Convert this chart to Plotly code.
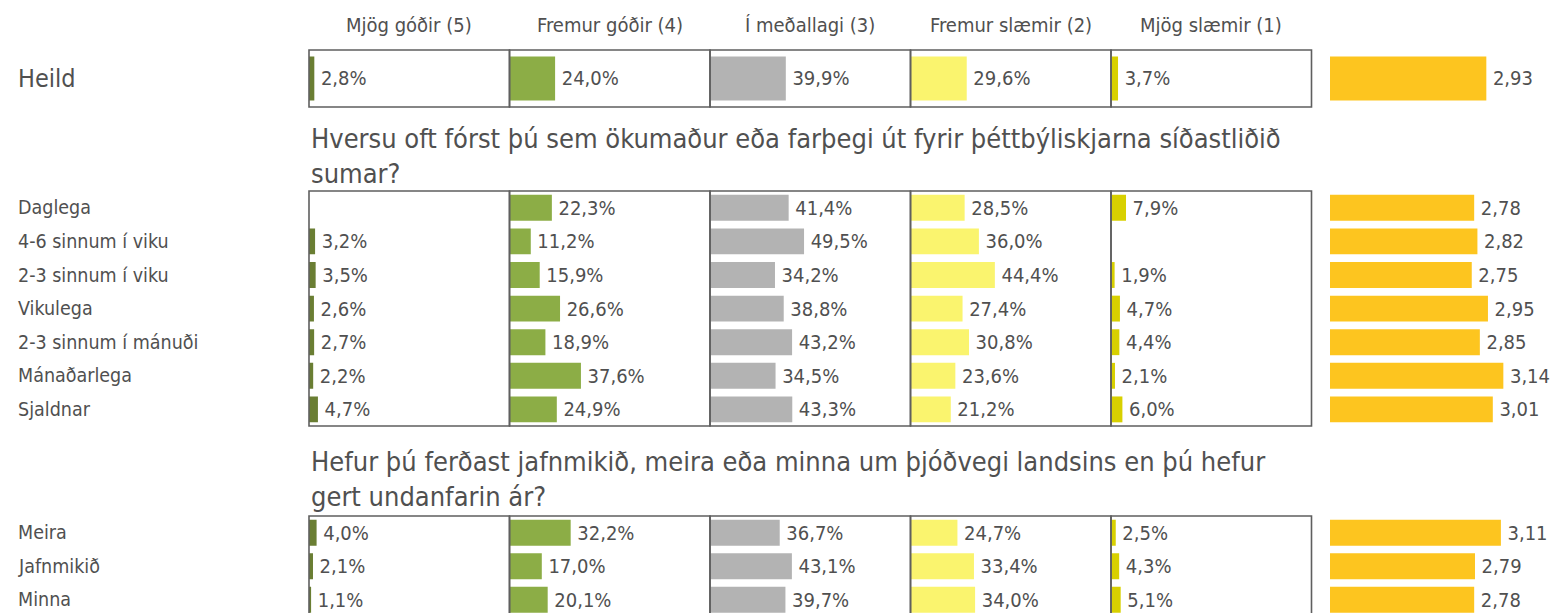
import plotly.graph_objects as go

W, H = 1551, 613
FONT = "DejaVu Sans Condensed, DejaVu Sans, sans-serif"
TXT = "#505050"
FRAME = "#5f5f5f"

# ---------------- data ----------------
headers = ["Mjög góðir (5)", "Fremur góðir (4)", "Í meðallagi (3)", "Fremur slæmir (2)", "Mjög slæmir (1)"]
colors = ["#6A7E33", "#8CAD46", "#B3B3B3", "#FAF46E", "#D8D000"]
mean_color = "#FDC51F"

title_freq = "Hversu oft fórst þú sem ökumaður eða farþegi út fyrir þéttbýliskjarna síðastliðið<br>sumar?"
title_trend = "Hefur þú ferðast jafnmikið, meira eða minna um þjóðvegi landsins en þú hefur<br>gert undanfarin ár?"

heild_cats = ["Heild"]
heild_mjog_godir = [2.8]
heild_fremur_godir = [24.0]
heild_medallagi = [39.9]
heild_fremur_slaemir = [29.6]
heild_mjog_slaemir = [3.7]
heild_mean = [2.93]

freq_cats = ["Daglega", "4-6 sinnum í viku", "2-3 sinnum í viku", "Vikulega",
             "2-3 sinnum í mánuði", "Mánaðarlega", "Sjaldnar"]
freq_mjog_godir = [None, 3.2, 3.5, 2.6, 2.7, 2.2, 4.7]
freq_fremur_godir = [22.3, 11.2, 15.9, 26.6, 18.9, 37.6, 24.9]
freq_medallagi = [41.4, 49.5, 34.2, 38.8, 43.2, 34.5, 43.3]
freq_fremur_slaemir = [28.5, 36.0, 44.4, 27.4, 30.8, 23.6, 21.2]
freq_mjog_slaemir = [7.9, None, 1.9, 4.7, 4.4, 2.1, 6.0]
freq_mean = [2.78, 2.82, 2.75, 2.95, 2.85, 3.14, 3.01]

trend_cats = ["Meira", "Jafnmikið", "Minna"]
trend_mjog_godir = [4.0, 2.1, 1.1]
trend_fremur_godir = [32.2, 17.0, 20.1]
trend_medallagi = [36.7, 43.1, 39.7]
trend_fremur_slaemir = [24.7, 33.4, 34.0]
trend_mjog_slaemir = [2.5, 4.3, 5.1]
trend_mean = [3.11, 2.79, 2.78]

sections = [
    (heild_cats, [heild_mjog_godir, heild_fremur_godir, heild_medallagi, heild_fremur_slaemir, heild_mjog_slaemir], heild_mean),
    (freq_cats, [freq_mjog_godir, freq_fremur_godir, freq_medallagi, freq_fremur_slaemir, freq_mjog_slaemir], freq_mean),
    (trend_cats, [trend_mjog_godir, trend_fremur_godir, trend_medallagi, trend_fremur_slaemir, trend_mjog_slaemir], trend_mean),
]

# ---------------- layout geometry (pixels) ----------------
panel_left = 309.0
panel_w = 200.5
px_per_pct = 1.9
mean_left = 1330.0
px_per_unit = 81.0
# (box top px, box bottom px, row pitch px)
sec_geom = [(50.0, 107.0, 57.0), (191.0, 426.0, 33.6), (516.0, 613.0, 33.5)]

def pct_text(v):
    return "" if v is None else "\u2009" + f"{v:.1f}".replace(".", ",") + "%"

def mean_text(v):
    return "\u2009" + f"{v:.2f}".replace(".", ",")

fig = go.Figure()
layout = dict(
    width=W, height=H, margin=dict(l=0, r=0, t=0, b=0, pad=0),
    paper_bgcolor="white", plot_bgcolor="rgba(0,0,0,0)",
    showlegend=False, barmode="overlay", bargap=0.23,
    font=dict(family=FONT, color=TXT, size=20),
)

# x axes
for i in range(5):
    l = panel_left + panel_w * i
    layout[f"xaxis{i+1 if i else ''}"] = dict(
        domain=[l / W, (l + panel_w) / W], range=[0, panel_w / px_per_pct],
        visible=False, fixedrange=True)
layout["xaxis6"] = dict(domain=[mean_left / W, 1.0],
                        range=[1, 1 + (W - mean_left) / px_per_unit],
                        visible=False, fixedrange=True)

# y axes
for j, (top, bot, pitch) in enumerate(sec_geom):
    span = (bot - top) / pitch
    layout[f"yaxis{j+1 if j else ''}"] = dict(
        domain=[1 - bot / H, 1 - top / H], type="category",
        categoryorder="array", categoryarray=sections[j][0],
        range=[-0.5 + span, -0.5], visible=False, fixedrange=True)

shapes = []
annotations = []

for j, (cats, cols, means) in enumerate(sections):
    yname = "y" if j == 0 else f"y{j+1}"
    for i in range(5):
        xname = "x" if i == 0 else f"x{i+1}"
        vals = cols[i]
        fig.add_trace(go.Bar(
            x=vals, y=cats, orientation="h", xaxis=xname, yaxis=yname,
            marker=dict(color=colors[i], line=dict(width=0)),
            text=[pct_text(v) for v in vals], textposition="outside",
            textfont=dict(family=FONT, size=20, color=TXT),
            cliponaxis=False, constraintext="none", hoverinfo="skip"))
        shapes.append(dict(type="rect", xref=f"{xname} domain", yref=f"{yname} domain",
                           x0=0, x1=1, y0=(-0.2 if j == 2 else 0), y1=1,
                           line=dict(color=FRAME, width=1.6), layer="above"))
    fig.add_trace(go.Bar(
        x=means, y=cats, orientation="h", xaxis="x6", yaxis=yname,
        marker=dict(color=mean_color, line=dict(width=0)),
        text=[mean_text(v) for v in means], textposition="outside",
        textfont=dict(family=FONT, size=20, color=TXT),
        cliponaxis=False, constraintext="none", hoverinfo="skip"))
    for c in cats:
        annotations.append(dict(
            x=16 / W, xref="paper", xanchor="left", y=c, yref=yname, yanchor="middle",
            text=c, showarrow=False,
            font=dict(family=FONT, size=(25 if j == 0 else 19.5), color=TXT)))

# column headers
for i, h in enumerate(headers):
    cx = panel_left + panel_w * (i + 0.5)
    annotations.append(dict(x=cx / W, xref="paper", xanchor="center",
                            y=1 - 25 / H, yref="paper", yanchor="middle",
                            text=h, showarrow=False,
                            font=dict(family=FONT, size=20, color=TXT)))

# section titles
for title, cy in [(title_freq, 156), (title_trend, 479)]:
    annotations.append(dict(x=panel_left / W, xref="paper", xanchor="left",
                            y=1 - cy / H, yref="paper", yanchor="middle",
                            text=title, showarrow=False, align="left",
                            font=dict(family=FONT, size=27, color=TXT)))

layout["shapes"] = shapes
layout["annotations"] = annotations
fig.update_layout(**layout)
fig.write_html(
    "out.html",
    config={"displayModeBar": False, "staticPlot": True},
    post_script="document.documentElement.style.overflow='hidden';"
                "document.body.style.margin='0';document.body.style.overflow='hidden';",
)
